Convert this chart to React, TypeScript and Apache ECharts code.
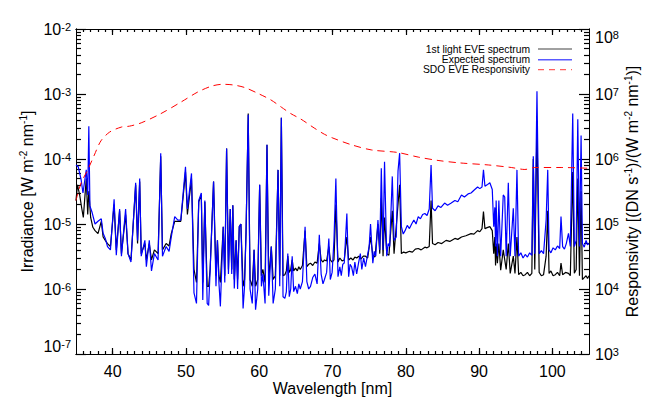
import React, { useEffect, useRef } from 'react';
import * as echarts from 'echarts';

// ---- Data ----
const blueNm = [35.0,35.3,35.7,35.95,36.4,36.6,36.75,36.9,37.2,37.6,38.0,38.45,38.7,39.0,39.3,39.7,40.2,40.5,40.95,41.2,41.77,42.1,42.5,43.14,43.4,43.69,43.9,44.4,44.6,45.0,45.3,45.7,46.2,46.56,46.8,47.3,47.7,48.0,48.47,48.9,49.3,49.94,50.2,50.76,51.1,51.44,51.75,52.1,52.3,52.58,52.9,53.1,53.3,53.77,54.1,54.3,54.5,54.7,55.09,55.3,55.55,55.8,56.05,56.25,56.4,56.6,56.85,57.05,57.28,57.5,57.8,58.0,58.2,58.5,58.75,59.05,59.3,59.5,59.8,60.06,60.3,60.5,60.8,61.06,61.3,61.65,61.9,62.2,62.57,62.8,63.02,63.25,63.5,63.7,63.9,64.1,64.3,64.5,64.7,64.95,65.2,65.4,65.6,65.9,66.26,66.5,66.75,67.0,67.3,67.6,67.9,68.2,68.45,68.7,68.9,69.2,69.5,69.7,69.95,70.2,70.46,70.75,71.0,71.2,71.4,71.6,71.96,72.2,72.4,72.6,72.85,73.05,73.3,73.55,73.8,74.0,74.25,74.5,74.75,75.0,75.19,75.5,75.7,75.9,76.2,76.45,76.66,76.9,77.1,77.4,77.6,77.8,78.16,78.4,78.7,78.94,79.16,79.4,79.65,79.9,80.2,80.5,80.8,81.1,81.4,81.7,82.0,82.3,82.6,82.9,83.2,83.45,83.65,84.0,84.4,84.8,85.3,85.7,86.2,86.7,87.1,87.6,88.0,88.5,88.9,89.3,89.8,90.1,90.4,90.6,90.8,91.1,91.47,91.8,92.0,92.15,92.25,92.33,92.5,92.7,92.95,93.3,93.5,93.7,93.99,94.25,94.67,94.9,95.17,95.4,95.7,96.0,96.3,96.6,96.9,97.2,97.4,97.6,97.9,98.2,98.5,98.8,99.15,99.37,99.55,99.8,100.1,100.4,100.7,101.0,101.18,101.4,101.65,101.9,102.2,102.45,102.78,103.0,103.25,103.47,103.7,103.92,104.1,104.35,104.6,104.8,105.0];
const blueIrr = [8.1e-5,7.6e-5,4.8e-5,3.0e-5,6.8e-5,2.8e-5,3.2e-4,1.9e-5,1.5e-5,1.0e-5,1.1e-5,1.2e-5,7.2e-6,6.0e-6,4.5e-6,4.0e-6,2.4e-5,3.3e-6,1.7e-5,3.2e-6,1.7e-5,3.5e-6,2.6e-6,4.3e-5,5.6e-6,5.0e-5,3.2e-6,5.6e-6,2.2e-6,5.6e-6,1.9e-6,3.5e-6,2.8e-6,1.23e-4,3.2e-6,4.5e-6,3.8e-6,6.3e-6,1.3e-5,1.15e-5,1.15e-5,7.6e-5,1.7e-5,6.0e-5,8.7e-7,6.0e-7,2.3e-5,3.0e-5,6.8e-7,2.3e-5,6.0e-7,5.6e-7,1.9e-6,4.5e-5,1.1e-6,5.6e-6,1.26e-6,5.4e-7,9.1e-6,1.26e-6,1.45e-4,1.7e-6,1.7e-5,1.7e-6,1.95e-5,1.02e-6,5.6e-6,1.0e-6,9.1e-6,1.0e-5,5.0e-7,1.1e-6,7.2e-6,4.8e-4,1.0e-6,6.0e-7,4.0e-6,4.8e-7,1.0e-6,4.0e-5,1.1e-6,1.7e-6,6.0e-7,1.66e-4,7.9e-7,4.5e-6,6.0e-7,1.0e-6,6.8e-5,1.1e-6,4.3e-4,7.6e-7,7.2e-7,9.0e-7,3.5e-6,7.6e-7,1.0e-6,3.2e-6,9.1e-7,1.1e-6,8.5e-7,1.2e-6,1.0e-6,1.3e-6,9.1e-6,1.3e-6,1.0e-6,1.1e-6,1.5e-6,1.7e-6,1.2e-6,6.8e-6,1.7e-6,1.2e-6,1.4e-6,1.8e-6,6.0e-6,1.4e-6,1.8e-6,5.6e-6,5.0e-5,1.55e-6,2.2e-6,1.6e-6,2.4e-6,2.5e-6,1.45e-5,1.55e-6,2.4e-6,2.2e-6,1.6e-6,2.6e-6,1.7e-6,2.5e-6,3.5e-6,2.0e-6,3.0e-6,2.2e-6,3.2e-6,4.5e-6,1.0e-5,2.5e-6,3.8e-6,3.2e-6,1.15e-5,4.0e-6,7.2e-5,4.0e-6,9.1e-5,3.2e-6,5.0e-6,4.5e-6,5.4e-5,5.6e-6,6.3e-6,6.5e-5,1.23e-4,9.1e-6,7.0e-6,7.9e-6,9.5e-6,8.5e-6,1.0e-5,1.15e-5,1.0e-5,1.3e-5,1.2e-5,1.4e-5,1.45e-5,1.35e-5,1.7e-5,8.1e-5,1.75e-5,1.6e-5,1.9e-5,1.8e-5,2.1e-5,1.95e-5,2.1e-5,2.3e-5,2.2e-5,2.8e-5,2.6e-5,2.9e-5,3.0e-5,3.3e-5,3.7e-5,3.5e-5,3.7e-5,6.8e-5,3.8e-5,4.0e-5,4.3e-5,3.4e-5,9.1e-6,1.8e-5,4.5e-6,2.3e-5,3.2e-6,2.3e-5,3.2e-6,2.8e-5,2.6e-5,3.2e-6,4.3e-5,3.2e-6,1.75e-5,3.2e-6,6.8e-5,3.2e-6,3.6e-6,3.0e-6,3.4e-6,3.1e-6,3.6e-6,3.3e-6,1.1e-4,3.5e-6,1.1e-3,3.5e-6,3.9e-6,3.5e-6,1.15e-5,6.8e-5,4.0e-6,3.6e-6,4.3e-6,4.0e-6,4.6e-6,4.2e-6,1.3e-5,4.5e-6,4.1e-6,5.0e-6,7.2e-6,4.5e-6,5.0e-4,4.5e-6,5.6e-6,4.1e-4,4.5e-6,2.3e-4,5.0e-6,4.4e-6,5.6e-6,4.8e-6,5.0e-6];

const blackNm = [35.0,35.2,35.5,35.8,36.0,36.4,36.6,36.75,37.0,37.3,37.6,38.0,38.45,38.7,39.0,39.3,39.7,40.2,40.5,40.95,41.2,41.77,42.1,42.5,43.14,43.4,43.69,43.9,44.4,44.6,45.0,45.3,45.7,46.2,46.56,46.8,47.3,47.7,48.0,48.47,48.9,49.3,49.94,50.2,50.76,51.1,51.44,51.75,52.1,52.3,52.58,52.9,53.1,53.3,53.77,54.1,54.3,54.5,54.7,55.09,55.3,55.55,55.8,56.05,56.25,56.4,56.6,56.85,57.05,57.28,57.5,57.8,58.0,58.2,58.5,58.75,59.05,59.3,59.5,59.8,60.06,60.3,60.5,60.8,61.06,61.3,61.65,61.9,62.2,62.57,62.8,63.02,63.25,63.5,63.7,63.9,64.1,64.3,64.5,64.7,64.95,65.2,65.4,65.6,65.9,66.26,66.5,66.75,67.0,67.3,67.6,67.9,68.2,68.45,68.7,68.9,69.2,69.5,69.7,69.95,70.2,70.46,70.75,71.0,71.3,71.6,71.96,72.2,72.5,72.8,73.05,73.3,73.6,73.9,74.2,74.5,74.8,75.19,75.5,75.8,76.2,76.45,76.66,76.9,77.1,77.4,77.7,78.16,78.4,78.94,79.16,79.4,79.7,80.0,80.5,80.9,81.3,81.7,82.1,82.6,82.9,83.2,83.45,83.65,84.0,84.4,84.9,85.5,86.0,86.7,87.1,87.6,88.2,88.9,89.3,89.8,90.1,90.4,90.6,90.8,91.1,91.47,91.8,92.0,92.15,92.25,92.33,92.5,92.7,92.95,93.3,93.7,93.99,94.25,94.67,94.9,95.17,95.4,95.7,96.0,96.3,96.6,96.9,97.2,97.4,97.6,97.9,98.2,98.5,98.8,99.15,99.37,99.55,99.8,100.1,100.4,100.7,101.0,101.18,101.4,101.8,102.2,102.45,102.78,103.0,103.25,103.47,103.7,103.92,104.1,104.35,104.6,104.8,105.0];
const blackIrr = [2.3e-5,4.0e-5,2.8e-5,1.7e-5,1.26e-5,5.0e-5,1.4e-5,3.2e-5,1.26e-5,8.9e-6,7.9e-6,7.1e-6,1.1e-5,6.3e-6,5.6e-6,5.0e-6,4.5e-6,2.0e-5,4.0e-6,1.6e-5,3.5e-6,1.4e-5,3.5e-6,2.8e-6,4.0e-5,5.0e-6,4.5e-5,3.5e-6,5.0e-6,2.8e-6,5.0e-6,2.8e-6,4.0e-6,3.5e-6,1.1e-4,4.0e-6,5.0e-6,4.6e-6,7.1e-6,1.1e-5,1.1e-5,1.1e-5,6.3e-5,1.4e-5,5.0e-5,2.0e-6,1.26e-6,2.2e-5,2.8e-5,1.26e-6,2.2e-5,1.1e-6,1.1e-6,2.0e-6,4.5e-5,1.6e-6,5.6e-6,1.6e-6,1.26e-6,9.1e-6,1.6e-6,1.45e-4,2.0e-6,1.7e-5,2.0e-6,1.95e-5,1.4e-6,5.6e-6,1.4e-6,9.1e-6,1.0e-5,1.1e-6,1.4e-6,7.2e-6,5.0e-4,1.4e-6,1.1e-6,4.0e-6,1.1e-6,1.4e-6,4.0e-5,1.6e-6,2.0e-6,1.26e-6,1.66e-4,1.4e-6,4.5e-6,1.4e-6,1.6e-6,6.8e-5,1.6e-6,4.3e-4,1.6e-6,1.66e-6,1.9e-6,3.2e-6,1.8e-6,2.0e-6,2.8e-6,1.9e-6,2.1e-6,1.9e-6,2.2e-6,2.0e-6,2.3e-6,7.9e-6,2.2e-6,2.4e-6,2.5e-6,2.3e-6,2.6e-6,2.5e-6,5.0e-6,2.8e-6,2.6e-6,2.8e-6,2.7e-6,4.5e-6,2.8e-6,2.6e-6,2.8e-6,2.0e-5,2.6e-6,3.0e-6,2.7e-6,2.8e-6,6.3e-6,2.8e-6,3.0e-6,2.8e-6,3.1e-6,3.0e-6,3.2e-6,2.9e-6,3.2e-6,3.2e-6,3.0e-6,6.3e-6,3.3e-6,3.1e-6,1.0e-5,3.5e-6,2.5e-5,3.2e-6,1.26e-5,3.5e-6,3.3e-6,1.6e-5,3.5e-6,2.0e-5,4.0e-5,3.5e-6,3.7e-6,3.6e-6,3.8e-6,3.7e-6,4.1e-6,4.2e-6,4.0e-6,4.4e-6,4.3e-6,4.5e-6,2.3e-5,5.0e-6,4.8e-6,5.2e-6,5.0e-6,5.6e-6,5.4e-6,6.0e-6,5.8e-6,6.3e-6,6.6e-6,7.1e-6,7.0e-6,7.9e-6,7.6e-6,8.5e-6,1.55e-5,8.5e-6,8.8e-6,9.1e-6,7.9e-6,3.5e-6,6.3e-6,2.3e-6,5.0e-6,2.5e-6,5.0e-6,1.95e-6,4.0e-6,2.0e-6,5.0e-6,1.74e-6,3.2e-6,1.74e-6,6.3e-6,1.66e-6,1.8e-6,1.6e-6,1.66e-6,1.8e-6,1.6e-6,1.74e-6,1.0e-4,2.0e-6,3.2e-4,1.8e-6,1.6e-6,1.66e-6,3.2e-6,1.6e-5,1.74e-6,1.9e-6,1.6e-6,1.66e-6,1.8e-6,1.6e-6,2.5e-6,1.66e-6,1.8e-6,1.74e-6,1.6e-6,6.3e-5,1.74e-6,2.0e-6,5.0e-5,1.6e-6,3.2e-5,1.4e-6,1.5e-6,1.6e-6,1.45e-6,1.6e-6];

const respNm = [35.0,35.7,36.6,37.5,38.4,39.6,41.2,42.3,43.9,46.6,49.4,51.6,53.5,55.0,56.4,58.0,60.0,61.6,63.0,64.3,65.7,67.5,68.9,70.05,72.55,75.3,78.9,81.7,84.4,87.4,91.25,94.4,96.25,97.6,101.3,105.0];
const respDN = [2.3e5,4.3e5,6.8e5,1.15e6,1.9e6,2.6e6,3.1e6,3.2e6,3.6e6,5.0e6,7.6e6,1.07e7,1.32e7,1.41e7,1.38e7,1.26e7,1.0e7,8.1e6,6.3e6,5.0e6,4.1e6,3.0e6,2.4e6,2.1e6,1.66e6,1.38e6,1.26e6,1.07e6,9.5e5,8.7e5,8.1e5,7.4e5,6.9e5,7.4e5,7.4e5,7.2e5];

const xMajorTicks = [40, 50, 60, 70, 80, 90, 100];
const legendNames = ['1st light EVE spectrum', 'Expected spectrum', 'SDO EVE Responsivity'];

const FONT = 'Liberation Sans, Arial, Helvetica, sans-serif';

function minorLog(lo: number, hi: number): number[] {
  const out: number[] = [];
  for (let e = lo; e < hi; e++) for (let k = 2; k <= 9; k++) out.push(k * Math.pow(10, e));
  return out;
}
function range(a: number, b: number): number[] {
  const out: number[] = [];
  for (let v = a; v <= b; v++) out.push(v);
  return out;
}

const supRich = {
  b: { fontSize: 16, lineHeight: 16, fontFamily: FONT, color: '#000' },
  s: { fontSize: 11, lineHeight: 11, fontFamily: FONT, color: '#000', verticalAlign: 'top' },
};
const nameRich = {
  t: { fontSize: 16, lineHeight: 18, fontFamily: FONT, color: '#000' },
  s: { fontSize: 10, lineHeight: 10, fontFamily: FONT, color: '#000', verticalAlign: 'top' },
};
const expLabel = (v: number) => `{b|10}{s|${Math.round(Math.log10(v))}}`;

export default function App() {
  const ref = useRef<HTMLDivElement>(null);
  useEffect(() => {
    const chart = echarts.init(ref.current!, null, { renderer: 'svg' });
    const tickStyle = { color: '#000', width: 1.2 };
    const axisLine = { show: true, lineStyle: { color: '#000', width: 1 } };
    const xBase = { type: 'value', min: 35, max: 105, splitLine: { show: false } };
    const option: any = {
      animation: false,
      backgroundColor: '#fff',
      grid: { left: 76, right: 76, top: 29, bottom: 61, containLabel: false },
      xAxis: [
        {
          ...xBase, position: 'bottom', axisLine,
          name: 'Wavelength [nm]', nameLocation: 'middle', nameGap: 26, nameMoveOverlap: false,
          nameTextStyle: { fontSize: 16, fontFamily: FONT, color: '#000' },
          axisTick: { show: true, inside: true, length: 6, customValues: xMajorTicks, lineStyle: tickStyle },
          axisLabel: { show: true, customValues: xMajorTicks, margin: 9, fontSize: 16, fontFamily: FONT, color: '#000' },
        },
        {
          ...xBase, position: 'bottom', axisLine,
          axisTick: { show: true, inside: true, length: 3, customValues: range(36, 104), lineStyle: tickStyle },
          axisLabel: { show: false },
        },
        {
          ...xBase, position: 'top', axisLine,
          axisTick: { show: true, inside: true, length: 6, customValues: xMajorTicks, lineStyle: tickStyle },
          axisLabel: { show: false },
        },
        {
          ...xBase, position: 'top', axisLine,
          axisTick: { show: true, inside: true, length: 3, customValues: range(36, 104), lineStyle: tickStyle },
          axisLabel: { show: false },
        },
      ],
      yAxis: [
        {
          type: 'log', logBase: 10, min: 1e-7, max: 1e-2, position: 'left', axisLine, splitLine: { show: false },
          axisTick: { show: true, inside: true, length: 10, lineStyle: tickStyle },
          axisLabel: {
            formatter: expLabel, rich: supRich, margin: 5,
            verticalAlignMaxLabel: 'top', verticalAlignMinLabel: 'bottom',
          },
          name: '{t|Irradiance [W m}{s|-2}{t| nm}{s|-1}{t|]}',
          nameLocation: 'middle', nameRotate: 90, nameGap: 40, nameMoveOverlap: false,
          nameTextStyle: { rich: nameRich, fontFamily: FONT },
        },
        {
          type: 'log', logBase: 10, min: 1e-7, max: 1e-2, position: 'left', axisLine, splitLine: { show: false },
          axisTick: { show: true, inside: true, length: 5, customValues: minorLog(-7, -2), lineStyle: tickStyle },
          axisLabel: { show: false },
        },
        {
          type: 'log', logBase: 10, min: 1e3, max: 1e8, position: 'right', axisLine, splitLine: { show: false },
          axisTick: { show: true, inside: true, length: 10, lineStyle: tickStyle },
          axisLabel: {
            formatter: expLabel, rich: supRich, margin: 6,
            verticalAlignMaxLabel: 'top', verticalAlignMinLabel: 'bottom',
          },
          name: '{t|Responsivity [(DN s}{s|-1}{t|)/(W m}{s|-2}{t| nm}{s|-1}{t|)]}',
          nameLocation: 'middle', nameRotate: 90, nameGap: 34, nameMoveOverlap: false,
          nameTextStyle: { rich: nameRich, fontFamily: FONT },
        },
        {
          type: 'log', logBase: 10, min: 1e3, max: 1e8, position: 'right', axisLine, splitLine: { show: false },
          axisTick: { show: true, inside: true, length: 5, customValues: minorLog(3, 8), lineStyle: tickStyle },
          axisLabel: { show: false },
        },
      ],
      series: [
        {
          name: legendNames[0], type: 'line', xAxisIndex: 0, yAxisIndex: 0, showSymbol: false, symbol: 'none',
          data: blackNm.map((x, i) => [x, blackIrr[i]]),
          lineStyle: { color: '#000', width: 1.2 }, z: 2,
        },
        {
          name: legendNames[1], type: 'line', xAxisIndex: 0, yAxisIndex: 0, showSymbol: false, symbol: 'none',
          data: blueNm.map((x, i) => [x, blueIrr[i]]),
          lineStyle: { color: '#0000ff', width: 1.2 }, z: 3,
        },
        {
          name: legendNames[2], type: 'line', xAxisIndex: 0, yAxisIndex: 2, showSymbol: false, symbol: 'none',
          data: respNm.map((x, i) => [x, respDN[i]]), smooth: 0.3,
          lineStyle: { color: '#ff0000', width: 1, type: [7, 5] }, z: 4,
        },
      ],
      graphic: [
        ...legendNames.map((n, i) => ({
          type: 'text', x: 530, y: [49, 59.7, 69.5][i],
          style: { text: n, fontSize: 10.3, fontFamily: FONT, fill: '#000', align: 'right', verticalAlign: 'middle' },
        })),
        { type: 'line', shape: { x1: 538, y1: 49, x2: 572, y2: 49 }, style: { stroke: '#808080', lineWidth: 1.5 } },
        { type: 'line', shape: { x1: 538, y1: 59.7, x2: 572, y2: 59.7 }, style: { stroke: '#5a5aff', lineWidth: 1.5 } },
        { type: 'line', shape: { x1: 538, y1: 69.7, x2: 572, y2: 69.7 }, style: { stroke: '#ff6060', lineWidth: 1.2, lineDash: [6, 5] } },
      ],
    };
    chart.setOption(option);
    return () => chart.dispose();
  }, []);
  return <div ref={ref} style={{ position: 'fixed', left: 0, top: 0, width: 665, height: 415 }} />;
}
